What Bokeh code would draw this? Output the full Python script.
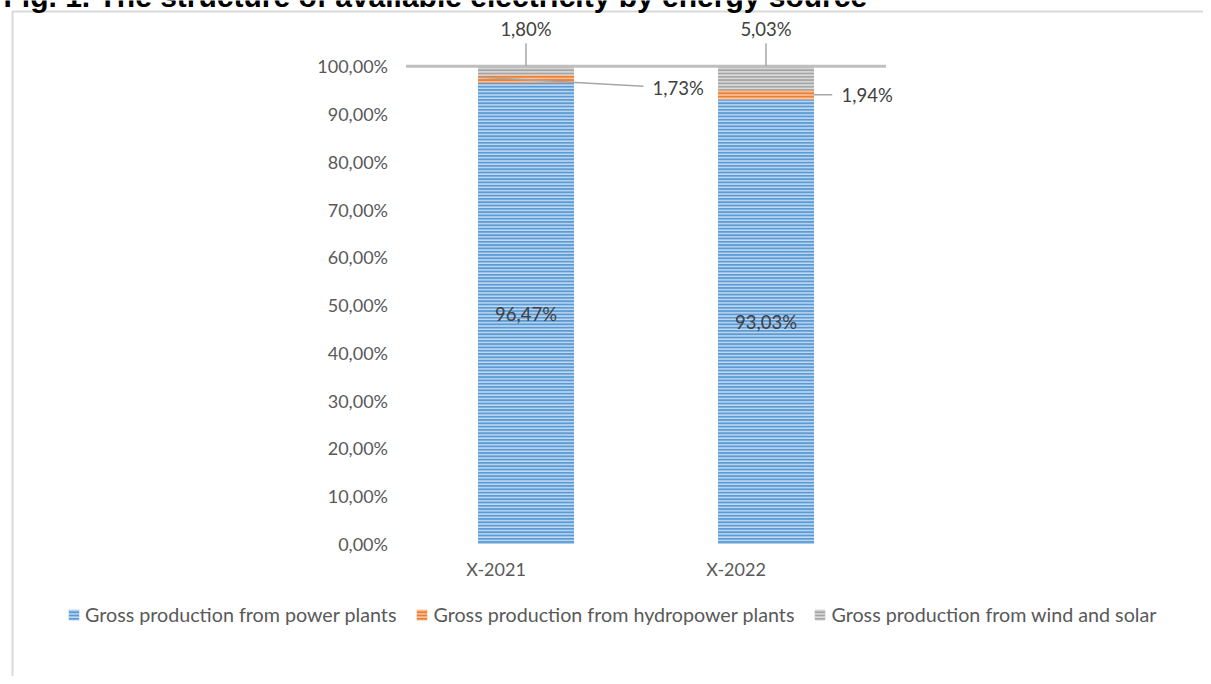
from bokeh.plotting import figure
from bokeh.models import Range1d, FixedTicker, Legend, LegendItem, Label, ColumnDataSource
from bokeh.core.properties import value
from bokeh.embed import file_html
from bokeh.resources import INLINE

# ---------------- data ----------------
categories = ["X-2021", "X-2022"]
series_names = [
    "Gross production from power plants",
    "Gross production from hydropower plants",
    "Gross production from wind and solar",
]
power = [96.47, 93.03]
hydro = [1.73, 1.94]
wind_solar = [1.80, 5.03]
y_ticks = [0, 10, 20, 30, 40, 50, 60, 70, 80, 90, 100]
y_tick_labels = ["0,00%", "10,00%", "20,00%", "30,00%", "40,00%", "50,00%",
                 "60,00%", "70,00%", "80,00%", "90,00%", "100,00%"]
total_line = 100
title_text = "Fig. 1. The structure of available electricity by energy source"

def pct(v):
    return f"{v:.2f}".replace(".", ",") + "%"

# ---------------- geometry / style ----------------
W, H = 1203, 676
PX_X = 240.0      # px per category unit
X0_PX = 525.5     # page x of first category centre
PX_Y = 4.778      # px per percent
Y0_PX = 543.5     # page y of 0 %
x_start = 0.5 - X0_PX / PX_X
x_end = x_start + W / PX_X
y_end = Y0_PX / PX_Y
y_start = y_end - H / PX_Y

FONT = "Lato"
BAR_W = 0.4

p = figure(width=W, height=H, x_range=Range1d(x_start, x_end),
           y_range=Range1d(y_start, y_end), output_backend="svg",
           toolbar_location=None, min_border=0, min_border_left=0,
           min_border_right=0, min_border_top=0, min_border_bottom=0)
p.outline_line_color = None
p.grid.visible = False
p.background_fill_color = "white"
p.border_fill_color = "white"

xc = [i + 0.5 for i in range(len(categories))]
b1 = [0] * len(categories)
t1 = [b + v for b, v in zip(b1, power)]
t2 = [b + v for b, v in zip(t1, hydro)]
t3 = [b + v for b, v in zip(t2, wind_solar)]
src = ColumnDataSource(dict(x=xc, b1=b1, t1=t1, t2=t2, t3=t3))

fills = ["#5B9BD5", "#ED7D31", "#A5A5A5"]
hatches = ["#C3DAF2", "#F8C9A8", "#DEDEDE"]
bounds = [("b1", "t1"), ("t1", "t2"), ("t2", "t3")]
rends = []
for (bot, top), fc, hc in zip(bounds, fills, hatches):
    r = p.vbar(x="x", bottom=bot, top=top, width=BAR_W, source=src,
               fill_color=fc, line_color=None, hatch_pattern="-",
               hatch_color=hc, hatch_weight=1.6, hatch_scale=3.3)
    rends.append(r)

# 100% line
p.line([0, len(categories)], [total_line, total_line], line_color="#BFBFBF", line_width=3)

# chart border (top and left)
bx = x_start + 12 / PX_X
by = y_end - 11 / PX_Y
p.line([bx, bx, x_end], [y_start, by, by], line_color="#D9D9D9", line_width=2)

# ---------------- data labels ----------------
lab_col = "#404040"
p.text(x=xc, y=[v / 2 for v in power], text=[pct(v) for v in power],
       text_align="center", text_baseline="middle", text_font=value(FONT),
       text_font_size="18.5px", text_color=lab_col)

# wind & solar: above the 100% line with vertical leaders
ws_label_dy_px = 37.2
ws_leader_px = 23
ws_y = [t + ws_label_dy_px / PX_Y for t in t3]
p.segment(x0=xc, y0=t3, x1=xc, y1=[t + ws_leader_px / PX_Y for t in t3],
          line_color="#A6A6A6", line_width=1.5)
p.text(x=xc, y=ws_y, text=[pct(v) for v in wind_solar], text_align="center",
       text_baseline="middle", text_font=value(FONT), text_font_size="18.5px",
       text_color=lab_col)

# hydro: to the right, with leaders
h_mid = [(a + b) / 2 for a, b in zip(t1, t2)]
lead_x0_px = [-47.8, 47.8]
lead_y0_px = [1.8, 0.0]
lead_x1_px = [117.5, 66.2]
lead_y1_px = [-7.2, 0.0]
lab_x_px = [126.5, 75.5]
lab_y_px = [-8.6, -0.6]
p.segment(x0=[x + d / PX_X for x, d in zip(xc, lead_x0_px)],
          y0=[m + d / PX_Y for m, d in zip(h_mid, lead_y0_px)],
          x1=[x + d / PX_X for x, d in zip(xc, lead_x1_px)],
          y1=[m + d / PX_Y for m, d in zip(h_mid, lead_y1_px)],
          line_color="#A6A6A6", line_width=1.5)
p.text(x=[x + d / PX_X for x, d in zip(xc, lab_x_px)],
       y=[m + d / PX_Y for m, d in zip(h_mid, lab_y_px)],
       text=[pct(v) for v in hydro], text_align="left", text_baseline="middle",
       text_font=value(FONT), text_font_size="18.5px", text_color=lab_col)

# ---------------- axes ----------------
ax_col = "#595959"
yax = p.yaxis[0]
yax.fixed_location = 0
yax.ticker = FixedTicker(ticks=y_ticks)
yax.major_label_overrides = {t: l for t, l in zip(y_ticks, y_tick_labels)}
yax.axis_line_color = None
yax.major_tick_line_color = None
yax.minor_tick_line_color = None
yax.major_tick_out = 0
yax.major_tick_in = 0
yax.major_label_standoff = 18
yax.major_label_text_font = FONT
yax.major_label_text_font_size = "18px"
yax.major_label_text_color = ax_col

x_label_shift = -0.125
x_ticks = [x + x_label_shift for x in xc]
xax = p.xaxis[0]
xax.fixed_location = 0
xax.ticker = FixedTicker(ticks=x_ticks)
xax.major_label_overrides = {t: c for t, c in zip(x_ticks, categories)}
xax.axis_line_color = None
xax.major_tick_line_color = None
xax.minor_tick_line_color = None
xax.major_tick_out = 0
xax.major_tick_in = 0
xax.major_label_standoff = 14
xax.major_label_text_font = FONT
xax.major_label_text_font_size = "18px"
xax.major_label_text_color = ax_col

# ---------------- legend ----------------
legend = Legend(items=[LegendItem(label=n, renderers=[r]) for n, r in zip(series_names, rends)],
                location=(67, 50), orientation="horizontal",
                glyph_width=13, glyph_height=13, label_standoff=5, spacing=19,
                padding=0, margin=0, border_line_color=None,
                background_fill_alpha=0, label_text_font=FONT,
                label_text_font_size="19.7px", label_text_color=ax_col)
p.add_layout(legend)

# ---------------- title (cut at top edge, as in the reference) ----------------
p.add_layout(Label(x=3, y=H + 4, x_units="screen", y_units="screen", text=title_text,
                   text_font="Liberation Sans", text_font_style="bold",
                   text_font_size="30px", text_baseline="alphabetic", text_color="black"))

open("out.html", "w").write(file_html(p, INLINE))
